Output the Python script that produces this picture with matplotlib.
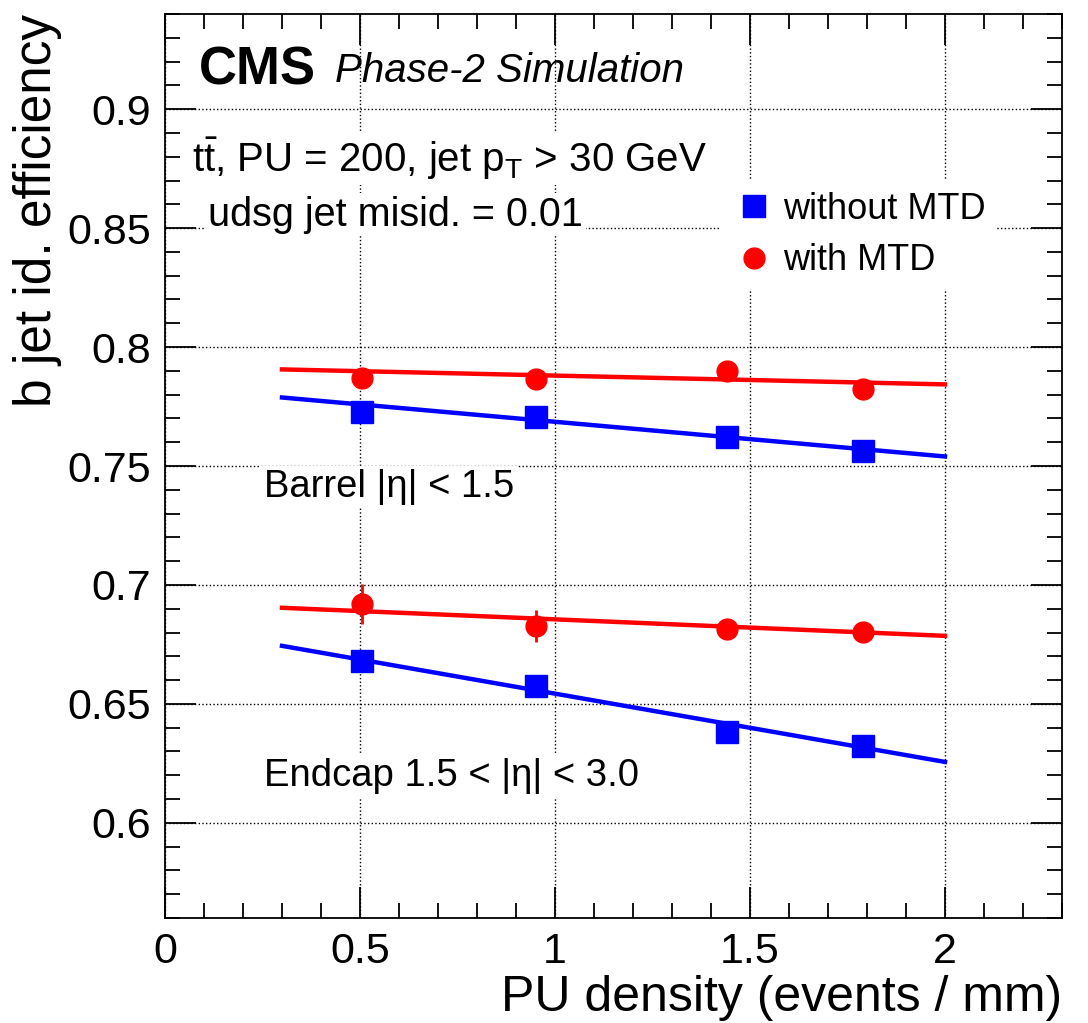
import matplotlib
matplotlib.use('Agg')
import matplotlib.pyplot as plt
import numpy as np
from matplotlib.ticker import MultipleLocator

plt.rcParams['font.family'] = ['Liberation Sans', 'DejaVu Sans']
plt.rcParams['mathtext.fontset'] = 'custom'
plt.rcParams['mathtext.rm'] = 'Liberation Sans'
plt.rcParams['mathtext.it'] = 'Liberation Sans:italic'

pu_density = [0.505, 0.95, 1.44, 1.79]

barrel_no_mtd = [0.7729, 0.7704, 0.7624, 0.7565]
barrel_mtd = [0.7872, 0.7864, 0.7901, 0.7822]
endcap_no_mtd = [0.6681, 0.6576, 0.6382, 0.6323]
endcap_mtd = [0.6921, 0.6828, 0.6816, 0.6803]

barrel_no_mtd_err = [0.002, 0.002, 0.002, 0.002]
barrel_mtd_err = [0.003, 0.003, 0.004, 0.003]
endcap_no_mtd_err = [0.003, 0.003, 0.003, 0.003]
endcap_mtd_err = [0.0085, 0.0067, 0.003, 0.003]

# linear fits drawn from 0.3 to 2.0 (end values)
fit_x = [0.3, 2.0]
fit_barrel_no_mtd = [0.7788, 0.7540]
fit_barrel_mtd = [0.7906, 0.7843]
fit_endcap_no_mtd = [0.6744, 0.6256]
fit_endcap_mtd = [0.6904, 0.6786]

blue = '#0000ff'
red = '#ff0000'

fig = plt.figure(figsize=(10.88, 10.23), dpi=100)
ax = fig.add_axes([165 / 1088, 1 - 918 / 1023, (1062 - 165) / 1088, (918 - 14) / 1023])

ax.plot(fit_x, fit_barrel_mtd, color=red, lw=3.2, zorder=3)
ax.plot(fit_x, fit_barrel_no_mtd, color=blue, lw=3.2, zorder=3)
ax.plot(fit_x, fit_endcap_mtd, color=red, lw=3.2, zorder=3)
ax.plot(fit_x, fit_endcap_no_mtd, color=blue, lw=3.2, zorder=3)

h1 = ax.errorbar(pu_density, barrel_no_mtd, yerr=barrel_no_mtd_err, fmt='s', color=blue,
                 ms=16, elinewidth=2, capsize=0, zorder=4)
h2 = ax.errorbar(pu_density, barrel_mtd, yerr=barrel_mtd_err, fmt='o', color=red,
                 ms=15, elinewidth=2, capsize=0, zorder=4)
ax.errorbar(pu_density, endcap_no_mtd, yerr=endcap_no_mtd_err, fmt='s', color=blue,
            ms=16, elinewidth=2, capsize=0, zorder=4)
ax.errorbar(pu_density, endcap_mtd, yerr=endcap_mtd_err, fmt='o', color=red,
            ms=15, elinewidth=2, capsize=0, zorder=4)

ax.set_xlim(0, 2.3)
ax.set_ylim(0.56, 0.94)
ax.xaxis.set_minor_locator(MultipleLocator(0.1))
ax.yaxis.set_minor_locator(MultipleLocator(0.01))
ax.set_yticks([0.6, 0.65, 0.7, 0.75, 0.8, 0.85, 0.9])
ax.set_yticklabels(['0.6', '0.65', '0.7', '0.75', '0.8', '0.85', '0.9'])
ax.set_xticks([0, 0.5, 1, 1.5, 2])
ax.set_xticklabels(['0', '0.5', '1', '1.5', '2'])
ax.tick_params(which='both', direction='in', top=True, right=True, width=1.3)
ax.tick_params(which='major', length=22, labelsize=31, pad=10)
ax.tick_params(which='minor', length=11)
for s in ax.spines.values():
    s.set_linewidth(1.3)
ax.grid(True, which='major', ls=':', color='black', lw=1.0)
ax.set_axisbelow(True)

ax.set_xlabel('PU density (events / mm)', fontsize=36, loc='right', labelpad=2)
ax.set_ylabel('b jet id. efficiency', fontsize=37, loc='top', labelpad=4)

box = dict(facecolor='white', edgecolor='none', pad=2)
ax.text(0.038, 0.937, 'CMS', transform=ax.transAxes, fontsize=38, fontweight='bold',
        va='center', bbox=box)
ax.text(0.19, 0.937, 'Phase-2 Simulation', transform=ax.transAxes, fontsize=29,
        style='italic', va='center')
ax.text(0.03, 0.84, r'$\mathrm{t\bar{t}}$, PU = 200, jet p$_\mathrm{T}$ > 30 GeV',
        transform=ax.transAxes, fontsize=29, va='center', bbox=box)
ax.text(0.048, 0.778, 'udsg jet misid. = 0.01', transform=ax.transAxes, fontsize=28.5,
        va='center', bbox=box)
ax.text(0.11, 0.477, 'Barrel |η| < 1.5', transform=ax.transAxes, fontsize=27.5,
        va='center', bbox=box)
ax.text(0.11, 0.157, 'Endcap 1.5 < |η| < 3.0', transform=ax.transAxes, fontsize=27.5,
        va='center', bbox=box)

leg = ax.legend([h1[0], h2[0]], ['without MTD', 'with MTD'], loc='upper left',
                bbox_to_anchor=(0.6, 0.835), fontsize=26, frameon=True,
                framealpha=1, edgecolor='none', handletextpad=0.2, labelspacing=0.45,
                borderpad=0.3, handlelength=1.2)
leg.get_frame().set_linewidth(0)

fig.savefig('out.png', dpi=100)
